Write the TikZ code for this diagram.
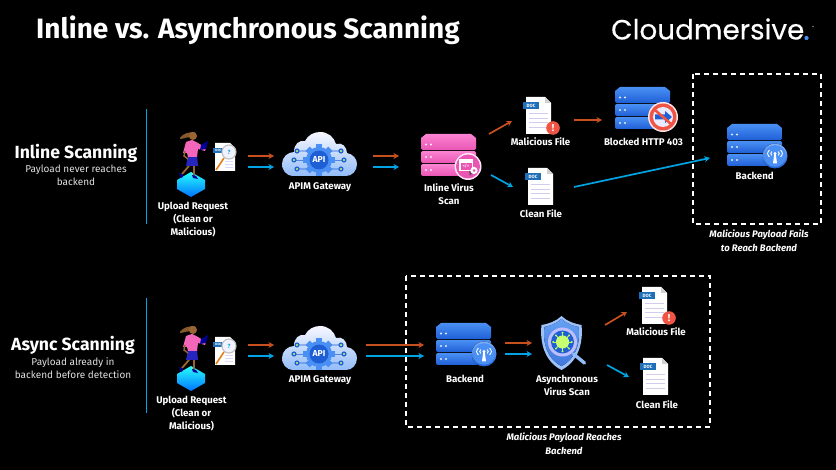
\documentclass[tikz,border=0pt]{standalone}
\usepackage{fontspec}
\setmainfont{Fira Sans}
\newfontfamily\logofont[FakeBold=0.25]{Poppins}
\usetikzlibrary{arrows.meta}
\definecolor{redline}{HTML}{C8501E}
\definecolor{blueline}{HTML}{00A4E4}
\definecolor{srvblue}{HTML}{4A90F4}
\definecolor{srvbluedk}{HTML}{1F5FD6}
\definecolor{srvpink}{HTML}{FB84D3}
\definecolor{srvpinkdk}{HTML}{EA55B4}
\definecolor{alertred}{HTML}{EE5544}
\definecolor{tagblue}{HTML}{1F6FB8}
\tikzset{
  flowred/.style={draw=redline,line width=1.7pt,-{Stealth[length=5.5pt,width=6pt]}},
  flowblue/.style={draw=blueline,line width=1.7pt,-{Stealth[length=5.5pt,width=6pt]}},
  dashbox/.style={draw=white,line width=1.1pt,dash pattern=on 5pt off 4pt},
  railline/.style={draw=blueline,line width=1.5pt},
  lbl/.style={text=white,font=\bfseries\fontsize{9.7}{12.7}\selectfont,inner sep=0pt},
  hdr/.style={text=white,font=\bfseries\fontsize{17.6}{20}\selectfont,inner sep=0pt},
  sublbl/.style={text=white!88!black,font=\fontsize{10}{12}\selectfont,inner sep=0pt},
  notelbl/.style={text=white,font=\bfseries\itshape\fontsize{9.5}{12}\selectfont,inner sep=0pt},
  pics/serverstack/.style 2 args={code={
    \fill[top color=#1,bottom color=#2] (0,4) -- (5,0) -- (50,0) -- (55,4) -- (55,14) [rounded corners=1.5pt] -- (55,16) -- (0,16) [sharp corners] -- cycle;
    \fill[top color=#1,bottom color=#2,rounded corners=2pt] (0,17) rectangle (55,29);
    \fill[top color=#1,bottom color=#2,rounded corners=2pt] (0,30) rectangle (55,42);
    \foreach \ypos in {10.5,23,36}{
      \fill[white!85!#1] (5,\ypos) circle (1.2);
      \fill[white!85!#1] (10,\ypos) circle (1.2);
    }
  }},
  pics/wifibadge/.style={code={
    \fill[top color=srvblue!70!white,bottom color=srvbluedk] (0,0) circle (12.5);
    \fill[srvblue] (0,0) circle (10.8);
    \fill[white] (-.8,-2) -- (.8,-2) -- (2,7.5) -- (-2,7.5) -- cycle;
    \fill[white] (0,-2.5) circle (1.7);
    \draw[white,line width=.9pt] (-3.2,-4.5) .. controls (-4.6,-2.5) .. (-3.2,-.5);
    \draw[white,line width=.9pt] (3.2,-4.5) .. controls (4.6,-2.5) .. (3.2,-.5);
    \draw[white,line width=.9pt] (-5.6,-6) .. controls (-8,-2.5) .. (-5.6,1);
    \draw[white,line width=.9pt] (5.6,-6) .. controls (8,-2.5) .. (5.6,1);
  }},
  pics/blockbadge/.style={code={
    \fill[white!90!red] (0,0) circle (15);
    \fill[alertred] (0,0) circle (13.5);
    \fill[white!92!blue] (0,0) circle (10);
    \fill[srvbluedk] (-8,-2.5) -- (2,-2.5) -- (2,-6) -- (9,0) -- (2,6) -- (2,2.5) -- (-8,2.5) -- cycle;
    \draw[alertred,line width=2.6pt] (-8,-7) -- (8,7);
  }},
  pics/codebadge/.style={code={
    \fill[white!80!srvpink] (0,0) circle (13.5);
    \fill[srvpinkdk] (0,0) circle (12);
    \fill[white] (-9,-7) rectangle (5,5);
    \fill[srvpinkdk] (-7.5,-3.5) rectangle (3.5,3.5);
    \node[text=white,font=\bfseries\fontsize{4}{4}\selectfont,inner sep=0pt] (-code) at (-2,0) {</>};
    \fill[white] (6,4) circle (3.6);
    \fill[srvpinkdk] (6,4) circle (1.5);
    \fill[black!70] (1,4) -- (4.5,8) -- (2.5,8) -- (2,10) -- cycle;
  }},
  pics/docpage/.style={code={
    \fill[white] (3,0) -- (22,0) -- (28,6) -- (28,37) -- (3,37) -- cycle;
    \fill[black!18] (22,0) -- (28,6) -- (22,6) -- cycle;
    \foreach \ypos in {17,21.5,26,30.5}
      \draw[cyan!18!blue!18!white,line width=1pt] (5.5,\ypos) -- (25,\ypos);
    \fill[tagblue] (0,5) rectangle (16,12.5);
    \node[text=white,font=\bfseries\fontsize{4.6}{4}\selectfont,inner sep=0pt] (-tag) at (8,8.7) {DOC};
  }},
  pics/alertbadge/.style={code={
    \fill[alertred] (0,0) circle (6.8);
    \node[text=white,font=\bfseries\fontsize{10}{10}\selectfont,inner sep=0pt] (-mark) at (0,0) {!};
  }},
  pics/apicloud/.style={code={
    \shade[top color=blue!3!white,bottom color=srvblue!60!white]
      (12,44) .. controls (3,44) and (0,37) .. (0,32) .. controls (0,25) and (6,20) .. (12,20)
      .. controls (12,12) and (17,8) .. (23,9) .. controls (26,3) and (32,0) .. (38,0)
      .. controls (46,0) and (52,5) .. (54,12) .. controls (60,10) and (65,15) .. (65,21)
      .. controls (71,22) and (75,27) .. (75,32) .. controls (75,39) and (70,44) .. (64,44) -- cycle;
    \foreach \xa/\ya/\xb in {15/19/24,12/28/24,15/37/24,59/19/50,62/28/50,59/37/50}{
      \draw[srvbluedk,line width=.8pt] (\xa,\ya) -- (\xb,\ya) -- (37,28);
      \fill[srvbluedk] (\xa,\ya) circle (2.6);
      \fill[green!35!yellow!60!white] (\xa,\ya) circle (1.2);
    }
    \foreach \ang in {0,45,...,315}
      \fill[srvblue,rotate around={\ang:(37,28)}] (34,12) rectangle (40,20);
    \fill[srvblue] (37,28) circle (13);
    \fill[srvbluedk] (37,28) circle (9.5);
    \node[text=white,font=\bfseries\fontsize{8.6}{8}\selectfont,inner sep=0pt] (-api) at (37,28) {API};
  }},
  pics/virusshield/.style={code={
    \fill[srvblue!55!white] (0,0) .. controls (5,5) and (13,8) .. (20,9) .. controls (22,28) and (16,46) .. (0,54)
      .. controls (-16,46) and (-22,28) .. (-20,9) .. controls (-13,8) and (-5,5) .. (0,0) -- cycle;
    \fill[top color=srvblue!85!white,bottom color=srvbluedk!85!white] (0,3) .. controls (5,8) and (12,10) .. (17,11) .. controls (19,28) and (14,43) .. (0,50)
      .. controls (-14,43) and (-19,28) .. (-17,11) .. controls (-12,10) and (-5,8) .. (0,3) -- cycle;
    \draw[srvblue!60!white,line width=3.4pt,line cap=round] (12,38) -- (23,47);
    \fill[white!75!blue] (1,26) circle (14.5);
    \fill[srvbluedk] (1,26) circle (11.5);
    \foreach \ang in {0,45,...,315}{
      \draw[green!40!yellow!65!white,line width=.8pt,shift={(1,26)},rotate=\ang] (0,0) -- (9.3,0);
      \fill[green!40!yellow!65!white,shift={(1,26)},rotate=\ang] (9.3,0) circle (1.1);
    }
    \fill[green!40!yellow!55!white] (1,26) circle (6.6);
  }},
  pics/uploader/.style={code={
    \fill[top color=cyan!85!white,bottom color=blue!55!cyan] (21,47) -- (35,55) -- (35,64) -- (21,72) -- (7,64) -- (7,55) -- cycle;
    \fill[brown!70!black] (10,13) .. controls (13,8) and (20,7) .. (25,7) -- (22,13) .. controls (18,11) and (14,14) .. (10,14) -- cycle;
    \fill[brown!80!black] (23,11) circle (4);
    \draw[brown!80!black,line width=1.8pt] (19,41) -- (12,49);
    \draw[brown!80!black,line width=1.8pt] (24,41) -- (24,51);
    \fill[blue!60!black] (9,48) -- (13,50) -- (12,53) -- (10,52) -- cycle;
    \fill[blue!60!black] (22,50) -- (26,51) -- (28,54) -- (23,53) -- cycle;
    \fill[blue!70!black!85!white] (18,30) -- (27,30) -- (28,41) -- (16,41) -- cycle;
    \fill[magenta!60!white] (13,28) -- (16,17) -- (22,15) -- (28,18) -- (36,23) -- (35,26) -- (28,24) -- (27,32) -- (18,32) -- (17,28) -- cycle;
    \draw[brown!80!black,line width=1.4pt] (15,26) -- (14,31) -- (18,34);
    \fill[blue!60!black] (31,20) -- (38,16) -- (36,24) -- (30,25) -- cycle;
    \fill[white] (45,18) -- (60,18) -- (65,23) -- (65,46) -- (45,46) -- cycle;
    \foreach \ypos in {36,39,42}
      \draw[blue!15!white,line width=.7pt] (55,\ypos) -- (63,\ypos);
    \fill[tagblue] (43,23) rectangle (54,28.5);
    \node[text=white,font=\bfseries\fontsize{3.2}{3}\selectfont,inner sep=0pt] (-tag) at (48.5,25.8) {DOC};
    \draw[orange!60!brown,line width=1.6pt] (54,33) -- (46,45);
    \fill[white!95!blue] (59,27) circle (7);
    \draw[black!25,line width=1.1pt] (59,27) circle (7);
    \node[text=blueline,font=\bfseries\fontsize{6}{6}\selectfont,inner sep=0pt] (-ask) at (59,27) {?};
  }},
}
\begin{document}
\begin{tikzpicture}[x=1pt,y=-1pt]
\useasboundingbox[fill=black] (0,0) rectangle (836,470);
% heading
\node[text=white,font=\bfseries\fontsize{28}{32}\selectfont,inner sep=0pt,anchor=west] (title) at (36,30) {Inline vs. Asynchronous Scanning};
\node[text=white,font=\logofont\fontsize{27.8}{30}\selectfont,inner sep=0pt,anchor=west] (brand) at (611,29) {Cloudmersive};
\fill[srvblue] (806.5,38) circle (2.1);
\fill[black!50] (813,26.5) circle (.9);
% row labels
\node[hdr] (inlinehdr) at (76,153) {Inline Scanning};
\node[sublbl] (inlinesub) at (76,170) {Payload never reaches};
\node[sublbl] (inlinesubb) at (76,182) {backend};
\node[hdr] (asynchdr) at (73,345) {Async Scanning};
\node[sublbl] (asyncsub) at (73,363) {Payload already in};
\node[sublbl] (asyncsubb) at (73,375) {backend before detection};
\coordinate (railAa) at (146.5,109);
\coordinate (railAb) at (146.5,224);
\coordinate (railBa) at (146.5,298);
\coordinate (railBb) at (146.5,413);
\draw[railline] (railAa) -- (railAb);
\draw[railline] (railBa) -- (railBb);
% inline row
\pic (userA) at (170,125) {uploader};
\pic (gateA) at (282,132) {apicloud};
\pic (scanA) at (421,134) {serverstack={srvpink}{srvpinkdk}};
\pic (scanbadge) at (468,166.5) {codebadge};
\pic (badA) at (523,97) {docpage};
\pic (alertA) at (553,128) {alertbadge};
\pic (okA) at (525,168) {docpage};
\pic (blocked) at (615,87) {serverstack={srvblue}{srvbluedk}};
\pic (noentry) at (663,117) {blockbadge};
\pic (backA) at (727,124) {serverstack={srvblue}{srvbluedk}};
\pic (wifiA) at (775,156) {wifibadge};
\node[lbl,align=center] (userlblA) at (193,219.5) {Upload Request\\(Clean or\\Malicious)};
\node[lbl] (gatelblA) at (320,187) {APIM Gateway};
\node[lbl,align=center] (scanlbl) at (449,194.5) {Inline Virus\\Scan};
\node[lbl] (badlblA) at (540.5,141.7) {Malicious File};
\node[lbl] (blockedlbl) at (643.5,141.7) {Blocked HTTP 403};
\node[lbl] (oklblA) at (541,214) {Clean File};
\node[lbl] (backlblA) at (754.7,176) {Backend};
\node[notelbl] (noteAa) at (759,234.7) {Malicious Payload Fails};
\node[notelbl] (noteAb) at (759,247.7) {to Reach Backend};
\foreach \name/\xa/\xb in {userA/248/274,gateA/373/399}{
  \coordinate (\name ra) at (\xa,156);
  \coordinate (\name rb) at (\xb,156);
  \coordinate (\name ba) at (\xa,167);
  \coordinate (\name bb) at (\xb,167);
  \draw[flowred] (\name ra) -- (\name rb);
  \draw[flowblue] (\name ba) -- (\name bb);
}
\coordinate (scanAr) at (489,134);
\coordinate (badAin) at (512,121);
\coordinate (scanAb) at (491,175);
\coordinate (okAin) at (513,187);
\coordinate (badAout) at (574,120);
\coordinate (blockedin) at (602,120);
\coordinate (okAout) at (574,187);
\coordinate (backAin) at (710,158);
\draw[flowred] (scanAr) -- (badAin);
\draw[flowblue] (scanAb) -- (okAin);
\draw[flowred] (badAout) -- (blockedin);
\draw[flowblue] (okAout) -- (backAin);
\coordinate (boxAa) at (693,74);
\coordinate (boxAb) at (821,224);
\draw[dashbox] (boxAa) rectangle (boxAb);
% async row
\pic (userB) at (170,319) {uploader};
\pic (gateB) at (282,326) {apicloud};
\pic (backB) at (436,323) {serverstack={srvblue}{srvbluedk}};
\pic (wifiB) at (484,354) {wifibadge};
\pic (shield) at (561.5,316) {virusshield};
\pic (badB) at (639,287) {docpage};
\pic (alertB) at (669,318) {alertbadge};
\pic (okB) at (640,358) {docpage};
\node[lbl,align=center] (userlblB) at (191.5,413.5) {Upload Request\\(Clean or\\Malicious)};
\node[lbl] (gatelblB) at (320,380) {APIM Gateway};
\node[lbl] (backlblB) at (465,379) {Backend};
\node[lbl,align=center] (shieldlbl) at (567,385.5) {Asynchronous\\Virus Scan};
\node[lbl] (badlblB) at (656,332) {Malicious File};
\node[lbl] (oklblB) at (657,405) {Clean File};
\node[notelbl] (noteBa) at (564,438) {Malicious Payload Reaches};
\node[notelbl] (noteBb) at (564,451) {Backend};
\foreach \name/\xa/\xb/\ya/\yb in {userB/248/274/345/356,gateB/366/424/345/356,backB/505/532/343/354}{
  \coordinate (\name ra) at (\xa,\ya);
  \coordinate (\name rb) at (\xb,\ya);
  \coordinate (\name ba) at (\xa,\yb);
  \coordinate (\name bb) at (\xb,\yb);
  \draw[flowred] (\name ra) -- (\name rb);
  \draw[flowblue] (\name ba) -- (\name bb);
}
\coordinate (scanBr) at (605,325);
\coordinate (badBin) at (627,312);
\coordinate (scanBb) at (607,365);
\coordinate (okBin) at (629,377);
\draw[flowred] (scanBr) -- (badBin);
\draw[flowblue] (scanBb) -- (okBin);
\coordinate (boxBa) at (406,276);
\coordinate (boxBb) at (710,427);
\draw[dashbox] (boxBa) rectangle (boxBb);
\end{tikzpicture}
\end{document}
